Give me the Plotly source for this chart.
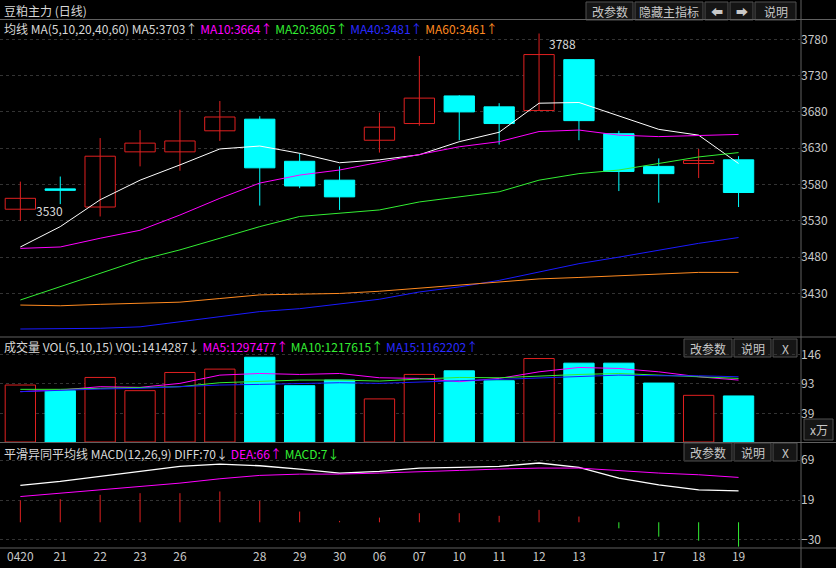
import plotly.graph_objects as go

dates = ["0420", "21", "22", "23", "26", "", "28", "29", "30", "06", "07",
         "10", "11", "12", "13", "", "17", "18", "19"]
opens = [3546, 3574, 3549, 3625, 3625, 3654, 3670, 3612, 3586, 3641, 3664,
         3702, 3687, 3682, 3752, 3650, 3605, 3609, 3614]
closes = [3561, 3572, 3619, 3637, 3640, 3673, 3603, 3578, 3563, 3659, 3699,
          3680, 3664, 3759, 3668, 3598, 3595, 3613, 3569]
highs = [3584, 3591, 3644, 3655, 3683, 3695, 3674, 3623, 3605, 3679, 3757,
         3703, 3692, 3788, 3752, 3654, 3616, 3629, 3619]
lows = [3530, 3553, 3536, 3605, 3599, 3640, 3551, 3575, 3545, 3624, 3661,
        3641, 3635, 3682, 3641, 3571, 3555, 3589, 3549]
ma5 = [3494, 3522, 3559, 3586, 3607, 3629, 3633, 3623, 3610, 3614, 3621,
       3639, 3652, 3692, 3693, 3674, 3656, 3648, 3609]
ma10 = [3492, 3494, 3506, 3517, 3538, 3561, 3582, 3593, 3600, 3611, 3621,
        3632, 3639, 3653, 3655, 3648, 3646, 3648, 3649]
ma20 = [3421, 3439, 3458, 3476, 3490, 3506, 3522, 3536, 3540, 3545, 3556,
        3563, 3570, 3586, 3595, 3600, 3609, 3618, 3624]
ma40 = [3381, 3381, 3382, 3384, 3391, 3398, 3405, 3409, 3415, 3422, 3432,
        3439, 3448, 3460, 3471, 3480, 3490, 3499, 3507]
ma60 = [3414, 3413, 3415, 3416, 3418, 3423, 3428, 3429, 3430, 3433, 3437,
        3441, 3445, 3450, 3452, 3454, 3456, 3459, 3459]

volume = [90.7, 80.5, 104.5, 80.5, 113.5, 119.6, 141.2, 89.5, 99.7, 65.5, 110,
          116.5, 98.5, 138.8, 130.4, 130.4, 94.3, 72, 70.9]
vol_ma5 = [78.7, 81.7, 87.7, 86.5, 93.7, 108.7, 111.7, 109.9, 111.7, 103.9, 102.7,
           96.7, 102.7, 114.7, 122.6, 120.8, 114.7, 105.7, 99.7]
vol_ma10 = [82.9, 82.9, 84.7, 85.9, 87.7, 94.9, 97.9, 99.7, 99.7, 97.9, 101.5,
            104.5, 103.9, 107.5, 109.9, 111.7, 108.7, 105.7, 102.7]
vol_ma15 = [78.7, 81.7, 83.5, 84.7, 87.7, 90.7, 91.9, 93.7, 94.9, 93.7, 96.7,
            98.5, 100.9, 103.9, 105.7, 108.7, 107.5, 107.5, 105.7]

diff = [37.4, 42.4, 48.6, 54.9, 61.1, 64, 61.9, 57.8, 52.8, 54.9, 59,
        59.9, 61.1, 65.3, 59.9, 46.5, 38.2, 31.9, 30.7]
dea = [23.6, 27.8, 32, 36.1, 40.3, 45.7, 49.9, 51.5, 51.5, 52.8, 54.9,
       56.1, 57.8, 59, 59, 55.7, 52.8, 50.7, 47.4]
macd = [18.7, 20.3, 25.7, 27.8, 27.8, 29.9, 18.3, 4.9, -6.7, -2.6, 2.9,
        2.9, -0.4, 7, -1.3, -15.9, -26.3, -31.3, -38.7]

price_ticks = [3430, 3480, 3530, 3580, 3630, 3680, 3730, 3780]
vol_ticks = [39, 93, 146]
macd_ticks = [-30, 19, 69]

RED = "#e02020"
CYAN = "#00ffff"
FONT = "Noto Sans CJK SC"
VOL_BASE = -12.7
MACD_ZERO = -8.4

x = list(range(len(dates)))
up = [c >= o and i != 1 for i, (o, c) in enumerate(zip(opens, closes))]

fig = go.Figure()

# candle wicks
for flag, col in [(True, RED), (False, CYAN)]:
    wx, wy = [], []
    for i in x:
        if up[i] == flag:
            wx += [i, i, None]
            wy += [lows[i], highs[i], None]
    fig.add_trace(go.Scatter(x=wx, y=wy, mode="lines", line=dict(color=col, width=1),
                             xaxis="x", yaxis="y", hoverinfo="skip"))

# candle bodies
for flag, col, fill in [(True, RED, "black"), (False, CYAN, CYAN)]:
    idx = [i for i in x if up[i] == flag]
    fig.add_trace(go.Bar(
        x=idx,
        y=[max(abs(closes[i] - opens[i]), 1.5) for i in idx],
        base=[min(opens[i], closes[i]) for i in idx],
        width=0.76, marker=dict(color=fill, line=dict(color=col, width=1)),
        xaxis="x", yaxis="y"))

for vals, col in [(ma5, "white"), (ma10, "#ff00ff"), (ma20, "#33ee33"),
                  (ma40, "#1a1aff"), (ma60, "#ff8a20")]:
    fig.add_trace(go.Scatter(x=x, y=vals, mode="lines", line=dict(color=col, width=1),
                             xaxis="x", yaxis="y"))

# volume
for flag, col, fill in [(True, RED, "black"), (False, CYAN, CYAN)]:
    idx = [i for i in x if up[i] == flag]
    fig.add_trace(go.Bar(
        x=idx, y=[volume[i] - VOL_BASE for i in idx], base=VOL_BASE,
        width=0.76, marker=dict(color=fill, line=dict(color=col, width=1)),
        xaxis="x2", yaxis="y2"))
for vals, col in [(vol_ma5, "#ff00ff"), (vol_ma10, "#33ee33"), (vol_ma15, "#1a1aff")]:
    fig.add_trace(go.Scatter(x=x, y=vals, mode="lines", line=dict(color=col, width=1),
                             xaxis="x2", yaxis="y2"))

# macd
mx, my_r, mx_g, my_g = [], [], [], []
for i in x:
    if macd[i] >= MACD_ZERO:
        mx += [i, i, None]; my_r += [MACD_ZERO, macd[i], None]
    else:
        mx_g += [i, i, None]; my_g += [MACD_ZERO, macd[i], None]
fig.add_trace(go.Scatter(x=mx, y=my_r, mode="lines", line=dict(color=RED, width=1),
                         xaxis="x3", yaxis="y3"))
fig.add_trace(go.Scatter(x=mx_g, y=my_g, mode="lines", line=dict(color="#33ee33", width=1),
                         xaxis="x3", yaxis="y3"))
fig.add_trace(go.Scatter(x=x, y=diff, mode="lines", line=dict(color="white", width=1.3),
                         xaxis="x3", yaxis="y3"))
fig.add_trace(go.Scatter(x=x, y=dea, mode="lines", line=dict(color="#ff00ff", width=1),
                         xaxis="x3", yaxis="y3"))

H = 548.0


def py(p):
    return (H - p) / H


def px(p):
    return p / 800.0


xr = [-0.51, 19.54]
axis_common = dict(range=xr, showgrid=False, zeroline=False, showline=False,
                   showticklabels=False, fixedrange=True)
yc = dict(side="right", showgrid=True, gridcolor="#333333", griddash="dot",
          zeroline=False, tickfont=dict(color="#c8c8c8", size=12, family=FONT),
          ticks="", showline=False)

fig.update_layout(
    width=836, height=568, margin=dict(l=0, r=36, t=0, b=20),
    paper_bgcolor="black", plot_bgcolor="black", showlegend=False,
    barmode="overlay", font=dict(family=FONT, color="#c8c8c8", size=12),
    xaxis=dict(**axis_common, domain=[0, 1], anchor="y"),
    xaxis2=dict(**axis_common, domain=[0, 1], anchor="y2"),
    xaxis3=dict(range=xr, domain=[0, 1], anchor="y3", showgrid=False, zeroline=False,
                tickmode="array", tickvals=x, ticktext=dates, ticks="",
                tickfont=dict(color="#c8c8c8", size=12, family=FONT)),
    yaxis=dict(**yc, domain=[py(337), py(20)], range=[3370, 3806.6], tickvals=price_ticks),
    yaxis2=dict(**yc, domain=[py(442), py(337)], range=[VOL_BASE, 177.9], tickvals=vol_ticks),
    yaxis3=dict(**yc, domain=[py(548), py(443)], range=[-40.4, 90.2], tickvals=macd_ticks),
)

shapes = []
# panel dividers and right border
for yy in [19.5, 337, 442.5, 548]:
    shapes.append(dict(type="line", xref="paper", yref="paper", x0=0, x1=px(836),
                       y0=py(yy), y1=py(yy), line=dict(color="#606060", width=1)))
shapes.append(dict(type="line", xref="paper", yref="paper", x0=px(801), x1=px(801),
                   y0=py(568), y1=py(0), line=dict(color="#606060", width=1)))


def button(x0, x1, y0, y1, text):
    shapes.append(dict(type="rect", xref="paper", yref="paper", x0=px(x0), x1=px(x1),
                       y0=py(y1), y1=py(y0), line=dict(color="#505050", width=1),
                       fillcolor="#151515", layer="below"))
    fig.add_annotation(x=px((x0 + x1) / 2), y=py((y0 + y1) / 2), xref="paper", yref="paper",
                       xanchor="center", yanchor="middle",
                       text=text, showarrow=False, font=dict(size=12, color="#c8c8c8"))


button(586, 633, 2, 20, "改参数")
button(635, 703, 2, 20, "隐藏主指标")
button(705, 728, 2, 20, "⬅")
button(730, 753, 2, 20, "➡")
button(755, 796, 2, 20, "说明")
for y0 in [339, 443]:
    button(684, 732, y0, y0 + 18, "改参数")
    button(734, 771, y0, y0 + 18, "说明")
    button(773, 797, y0, y0 + 18, "X")
button(804, 833, 419, 440, "x万")
fig.update_layout(shapes=shapes)


def label(xp, yp, text):
    fig.add_annotation(x=px(xp), y=py(yp), xref="paper", yref="paper", text=text,
                       showarrow=False, xanchor="left", yanchor="middle",
                       font=dict(size=12, color="#d8d8d8"))


label(2, 10, "豆粕主力 (日线)")
label(2, 28, "均线 MA(5,10,20,40,60) MA5:3703↑ <span style='color:#ff00ff'>MA10:3664↑</span> "
      "<span style='color:#33ee33'>MA20:3605↑</span> <span style='color:#2a2aff'>MA40:3481↑</span> "
      "<span style='color:#ff8a20'>MA60:3461↑</span>")
label(2, 347, "成交量 VOL(5,10,15) VOL:1414287↓ <span style='color:#ff00ff'>MA5:1297477↑</span> "
      "<span style='color:#33ee33'>MA10:1217615↑</span> <span style='color:#2a2aff'>MA15:1162202↑</span>")
label(2, 453, "平滑异同平均线 MACD(12,26,9) DIFF:70↓ <span style='color:#ff00ff'>DEA:66↑</span> "
      "<span style='color:#33ee33'>MACD:7↓</span>")

fig.add_annotation(x=0, y=lows[0], xref="x", yref="y", text="3530", showarrow=False,
                   xanchor="left", yanchor="bottom", xshift=14,
                   font=dict(size=12, color="#d8d8d8"))
fig.add_annotation(x=13, y=highs[13], xref="x", yref="y", text="3788", showarrow=False,
                   xanchor="left", yanchor="top", xshift=8,
                   font=dict(size=12, color="#d8d8d8"))

fig.write_html("out.html", config={"displayModeBar": False},
               post_script="document.body.style.margin='0';")
